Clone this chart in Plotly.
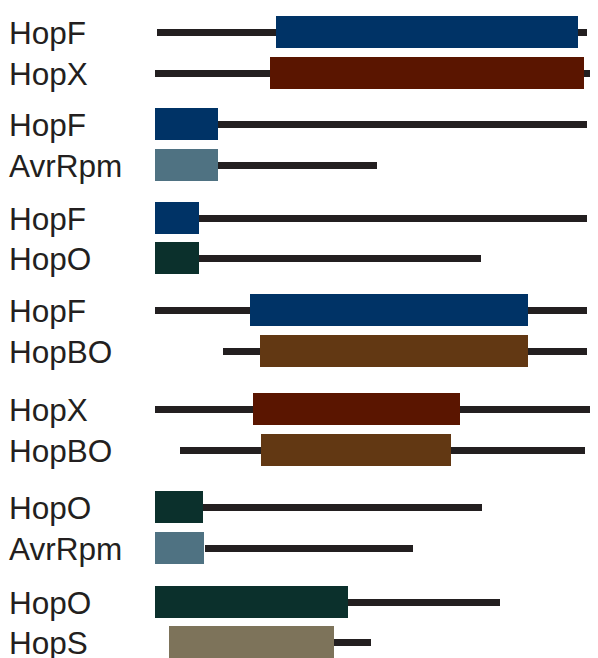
import plotly.graph_objects as go

# Row labels (protein names), top to bottom
labels = ["HopF", "HopX", "HopF", "AvrRpm", "HopF", "HopO", "HopF", "HopBO",
          "HopX", "HopBO", "HopO", "AvrRpm", "HopO", "HopS"]

# Full-length extent (thin line) of each protein, in sequence units
line_start = [157, 155, 200, 200, 180, 180, 155, 223, 155, 180, 180, 205, 300, 300]
line_end = [587, 595, 587, 377, 587, 481, 587, 587, 602, 585, 482, 413, 500, 371]

# Conserved domain (thick box) of each protein
box_start = [276, 270, 154.5, 154.5, 154.5, 154.5, 250, 260, 253, 261, 155, 154.5, 154.5, 168.5]
box_end = [578, 584, 217.5, 217.5, 198.5, 198.5, 528, 528, 460, 451, 203, 203.5, 348, 334]

# Layout: vertical centre of each row (pixels from top)
row_y = [32, 73, 124, 165, 218, 258, 310, 351, 409, 450, 507, 548, 602, 642]

colors = {
    "HopF": "#003366",
    "HopX": "#5a1500",
    "AvrRpm": "#4f7282",
    "HopO": "#0b302c",
    "HopBO": "#623813",
    "HopS": "#7d735a",
}
line_color = "#231f20"

fig = go.Figure()

fig.add_trace(go.Bar(
    orientation="h",
    y=row_y,
    base=line_start,
    x=[e - s for s, e in zip(line_start, line_end)],
    width=7,
    marker=dict(color=line_color, line=dict(width=0)),
    hoverinfo="skip",
    showlegend=False,
))

fig.add_trace(go.Bar(
    orientation="h",
    y=row_y,
    base=box_start,
    x=[e - s for s, e in zip(box_start, box_end)],
    width=32,
    marker=dict(color=[colors[l] for l in labels], line=dict(width=0)),
    text=labels,
    textposition="none",
    hovertemplate="%{text}<extra></extra>",
    showlegend=False,
))

for lab, y in zip(labels, row_y):
    fig.add_annotation(
        x=9, y=y + 1, xref="x", yref="y", xshift=-2,
        text=lab, showarrow=False,
        xanchor="left", yanchor="middle",
        font=dict(family="Liberation Sans, Arial, sans-serif", size=31.5, color=line_color),
    )

# The page body has an 8px margin, so the figure is 590x650 and its axes
# start at 8 to keep one unit per pixel of the window.
fig.update_layout(
    width=590, height=650,
    margin=dict(l=0, r=0, t=0, b=0),
    paper_bgcolor="white", plot_bgcolor="white",
    barmode="overlay",
    bargap=0,
    xaxis=dict(range=[8, 598], visible=False, fixedrange=True),
    yaxis=dict(range=[658, 8], visible=False, fixedrange=True),
)

fig.write_html("out.html")
